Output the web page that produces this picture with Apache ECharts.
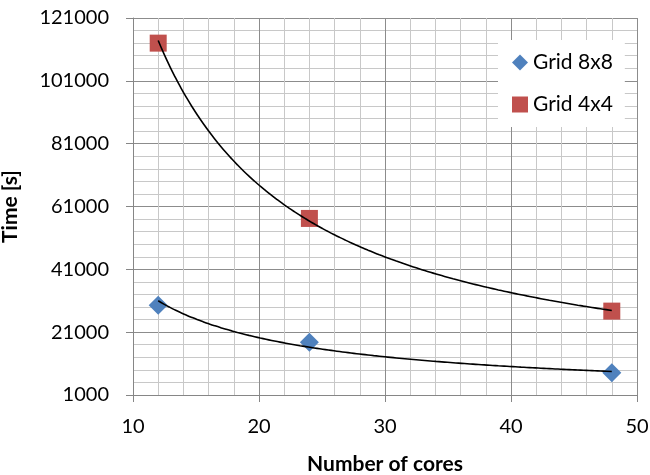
<!DOCTYPE html>
<html><head><meta charset="utf-8">
<script src="https://cdn.jsdelivr.net/npm/echarts@6/dist/echarts.min.js"></script>
<style>html,body{margin:0;padding:0;background:#fff}#c{width:650px;height:475px}</style>
</head><body><div id="c"></div>
<script>
const cores = [12, 24, 48];
const grid8x8 = [29600, 17770, 8100];
const grid4x4 = [113000, 57200, 27700];
const xTicks = [10, 20, 30, 40, 50];
const yTicks = [1000, 21000, 41000, 61000, 81000, 101000, 121000];

// Power trendline (least squares in log-log space), like a spreadsheet power trendline
function powerFit(xs, ys) {
  const n = xs.length;
  let sx = 0, sy = 0, sxx = 0, sxy = 0;
  for (let i = 0; i < n; i++) {
    const lx = Math.log(xs[i]), ly = Math.log(ys[i]);
    sx += lx; sy += ly; sxx += lx * lx; sxy += lx * ly;
  }
  const b = (n * sxy - sx * sy) / (n * sxx - sx * sx);
  const a = Math.exp((sy - b * sx) / n);
  const pts = [];
  const x0 = xs[0], x1 = xs[n - 1];
  for (let k = 0; k <= 80; k++) {
    const x = x0 + (x1 - x0) * k / 80;
    pts.push([x, a * Math.pow(x, b)]);
  }
  return pts;
}

const font = 'Lato, "Open Sans", sans-serif';
const chart = echarts.init(document.getElementById('c'));
chart.setOption({
  animation: false,
  backgroundColor: '#fff',
  grid: { left: 133, right: 13, top: 18, bottom: 80, containLabel: false, outerBoundsMode: 'none' },
  legend: {
    orient: 'vertical',
    left: 498, top: 40,
    backgroundColor: '#fff',
    padding: [12, 12, 12, 14],
    itemGap: 21,
    itemWidth: 16, itemHeight: 16,
    textStyle: { fontFamily: font, fontSize: 21, color: '#000' },
    data: [
      { name: 'Grid 8x8', icon: 'diamond' },
      { name: 'Grid 4x4', icon: 'rect' }
    ]
  },
  xAxis: {
    type: 'value', min: xTicks[0], max: xTicks[xTicks.length - 1], interval: 10,
    name: 'Number of cores', nameLocation: 'middle', nameGap: 59,
    nameTextStyle: { fontFamily: font, fontSize: 21, fontWeight: 'bold', color: '#000' },
    axisLine: { show: true, lineStyle: { color: '#868686', width: 1 } },
    axisTick: { show: true, length: 7, lineStyle: { color: '#868686' } },
    axisLabel: { fontFamily: font, fontSize: 20, color: '#000', margin: 22 },
    splitLine: { show: true, lineStyle: { color: '#8c8c8c', width: 1 } },
    minorTick: { show: false, splitNumber: 5 },
    minorSplitLine: { show: true, lineStyle: { color: '#c8c8c8', width: 1 } }
  },
  yAxis: {
    type: 'value', min: yTicks[0], max: yTicks[yTicks.length - 1], interval: 20000,
    name: 'Time [s]', nameLocation: 'middle', nameGap: 112, nameRotate: 90,
    nameTextStyle: { fontFamily: font, fontSize: 21, fontWeight: 'bold', color: '#000' },
    axisLine: { show: true, lineStyle: { color: '#868686', width: 1 } },
    axisTick: { show: true, length: 7, lineStyle: { color: '#868686' } },
    axisLabel: { fontFamily: font, fontSize: 20, color: '#000', margin: 24, formatter: v => String(v) },
    splitLine: { show: true, lineStyle: { color: '#8c8c8c', width: 1 } },
    minorTick: { show: false, splitNumber: 5 },
    minorSplitLine: { show: true, lineStyle: { color: '#c8c8c8', width: 1 } }
  },
  series: [
    {
      name: 'trend8', type: 'line', data: powerFit(cores, grid8x8), showSymbol: false,
      smooth: true, silent: true, lineStyle: { color: '#000', width: 1.6 }, z: 3
    },
    {
      name: 'trend4', type: 'line', data: powerFit(cores, grid4x4), showSymbol: false,
      smooth: true, silent: true, lineStyle: { color: '#000', width: 1.6 }, z: 3
    },
    {
      name: 'Grid 8x8', type: 'scatter', symbol: 'diamond', symbolSize: 19,
      itemStyle: { color: '#4F81BD', opacity: 1 }, z: 2,
      data: cores.map((c, i) => [c, grid8x8[i]])
    },
    {
      name: 'Grid 4x4', type: 'scatter', symbol: 'rect', symbolSize: 17,
      itemStyle: { color: '#C0504D', opacity: 1 }, z: 2,
      data: cores.map((c, i) => [c, grid4x4[i]])
    }
  ]
});
</script></body></html>
